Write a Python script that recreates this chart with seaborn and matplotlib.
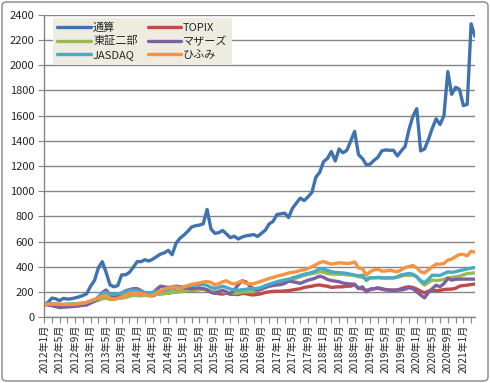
import pandas as pd
import matplotlib
matplotlib.use("Agg")
import matplotlib.pyplot as plt
from matplotlib.patches import FancyBboxPatch
import seaborn as sns

# monthly index values, 2012-01 .. 2021-04
months = pd.date_range("2012-01-01", periods=112, freq="MS")
month_labels = [f"{d.year}年{d.month}月" for d in months]

tsusan = [100, 115, 150, 145, 130, 148, 142, 145, 152, 160, 170, 185,
          245, 290, 390, 440, 355, 255, 240, 250, 335, 335, 355, 395,
          440, 440, 455, 445, 460, 480, 500, 510, 530, 495, 585, 625,
          650, 680, 715, 725, 730, 740, 855, 700, 665, 670, 688, 660,
          630, 642, 620, 635, 645, 650, 655, 640, 665, 690, 740, 760,
          815, 820, 825, 790, 865, 905, 945, 925, 955, 990, 1110, 1150,
          1235, 1260, 1315, 1240, 1335, 1305, 1325, 1400, 1475, 1290, 1260, 1210,
          1215, 1245, 1270, 1320, 1328, 1325, 1325, 1280, 1320, 1355, 1490, 1595,
          1655, 1320, 1335, 1410, 1500, 1575, 1530, 1600, 1950, 1770, 1825, 1810,
          1680, 1690, 2330, 2230]
topix = [100, 102, 105, 100, 93, 94, 96, 95, 98, 100, 104, 110,
         120, 125, 135, 150, 155, 155, 160, 162, 160, 168, 175, 180,
         172, 170, 175, 170, 168, 180, 185, 188, 190, 195, 200, 205,
         208, 210, 213, 215, 218, 222, 215, 200, 195, 185, 182, 190,
         182, 180, 178, 187, 185, 178, 175, 180, 185, 195, 200, 203,
         205, 205, 207, 210, 215, 220, 225, 235, 240, 245, 252, 255,
         248, 245, 235, 238, 240, 240, 245, 245, 258, 228, 225, 212,
         220, 225, 228, 222, 215, 215, 213, 215, 225, 235, 240, 235,
         222, 205, 192, 205, 213, 208, 212, 218, 221, 222, 228, 245,
         250, 253, 258, 262]
tosho2 = [100, 102, 104, 102, 98, 98, 100, 100, 102, 105, 108, 112,
          120, 128, 135, 145, 150, 140, 140, 148, 150, 155, 165, 172,
          170, 170, 172, 170, 175, 180, 182, 185, 190, 195, 200, 200,
          205, 210, 215, 219, 222, 220, 215, 205, 200, 205, 200, 195,
          190, 187, 190, 198, 200, 200, 205, 213, 222, 235, 245, 255,
          262, 270, 280, 290, 300, 310, 320, 330, 340, 345, 350, 360,
          355, 345, 342, 340, 340, 340, 335, 333, 330, 320, 315, 306,
          311, 312, 312, 311, 310, 311, 311, 315, 325, 332, 332, 332,
          320, 280, 253, 275, 293, 290, 293, 300, 311, 315, 319, 325,
          335, 345, 348, 351]
mothers = [100, 95, 90, 82, 75, 78, 80, 82, 85, 88, 92, 95,
           110, 125, 150, 195, 215, 175, 165, 170, 190, 208, 217, 225,
           225, 210, 190, 172, 190, 220, 245, 240, 235, 238, 245, 240,
           235, 230, 225, 228, 232, 225, 215, 195, 187, 200, 213, 200,
           181, 215, 255, 288, 280, 245, 225, 213, 220, 235, 245, 250,
           255, 258, 267, 285, 280, 275, 267, 280, 293, 300, 311, 325,
           315, 298, 290, 285, 280, 270, 265, 262, 261, 226, 240, 200,
           221, 225, 232, 225, 218, 213, 213, 213, 215, 222, 232, 225,
           200, 175, 152, 195, 226, 253, 240, 265, 306, 293, 300, 301,
           301, 301, 301, 301]
jasdaq = [100, 103, 106, 104, 100, 100, 102, 103, 105, 108, 110, 115,
          125, 135, 160, 190, 195, 180, 180, 185, 190, 200, 210, 213,
          210, 200, 195, 192, 195, 205, 210, 213, 218, 225, 230, 235,
          240, 245, 250, 255, 259, 259, 250, 235, 227, 235, 245, 235,
          222, 215, 213, 217, 220, 226, 225, 228, 235, 250, 260, 270,
          280, 288, 295, 300, 310, 320, 330, 340, 345, 355, 365, 385,
          380, 370, 360, 355, 352, 350, 346, 340, 333, 327, 332, 290,
          311, 312, 315, 311, 310, 311, 311, 320, 335, 340, 346, 340,
          320, 290, 272, 300, 332, 332, 330, 345, 359, 355, 360, 368,
          375, 382, 388, 393]
hifumi = [100, 102, 104, 103, 100, 100, 100, 100, 102, 106, 110, 118,
          130, 140, 150, 165, 170, 150, 140, 148, 160, 172, 185, 192,
          190, 185, 180, 170, 175, 188, 210, 222, 230, 235, 240, 228,
          240, 250, 259, 265, 270, 278, 282, 275, 255, 265, 280, 288,
          270, 262, 275, 285, 268, 262, 265, 275, 285, 295, 306, 315,
          325, 332, 340, 350, 355, 360, 370, 375, 385, 400, 415, 433,
          440, 430, 420, 425, 430, 428, 425, 428, 438, 390, 385, 333,
          360, 375, 380, 365, 365, 372, 365, 359, 375, 393, 400, 410,
          390, 360, 350, 375, 399, 420, 420, 425, 452, 460, 480, 497,
          497, 486, 523, 515]

series_names = ["通算", "TOPIX", "東証二部", "マザーズ", "JASDAQ", "ひふみ"]
colors = ["#3F72AF", "#BE4B48", "#98B954", "#7D60A0", "#46AAC5", "#F69240"]

df = pd.DataFrame({"idx": range(len(months)), "通算": tsusan, "TOPIX": topix,
                   "東証二部": tosho2, "マザーズ": mothers, "JASDAQ": jasdaq,
                   "ひふみ": hifumi})
long_df = df.melt(id_vars="idx", var_name="系列", value_name="値")

sns.set_theme(style="white")
plt.rcParams['font.family'] = ['Noto Sans CJK JP', 'DejaVu Sans']

fig = plt.figure(figsize=(4.9, 3.83), dpi=100)
ax = fig.add_axes([44 / 490, 1 - 317 / 383, (475 - 44) / 490, (317 - 15) / 383])

sns.lineplot(data=long_df, x="idx", y="値", hue="系列", hue_order=series_names,
             palette=colors, linewidth=2.4, ax=ax)

ax.set_xlim(0, len(months) - 1)
ax.set_ylim(0, 2400)
ax.set_yticks(range(0, 2401, 200))
ax.grid(axis="y", color="#868686", linewidth=1.0)
ax.set_axisbelow(True)
ax.set_xlabel("")
ax.set_ylabel("")

xt = list(range(0, len(months), 2))
ax.set_xticks(xt)
ax.set_xticklabels([month_labels[i] if i % 4 == 0 else "" for i in xt],
                   rotation=90, fontsize=7.3)
ax.tick_params(axis="x", length=4, width=0.8, color="#868686", pad=1.5, bottom=True)
ax.tick_params(axis="y", length=4, width=0.8, color="#868686", pad=3, labelsize=8, left=True)

for s in ["top", "right"]:
    ax.spines[s].set_visible(False)
for s in ["left", "bottom"]:
    ax.spines[s].set_color("#868686")
    ax.spines[s].set_linewidth(1.0)

handles, labels = ax.get_legend_handles_labels()
order = [0, 2, 4, 1, 3, 5]
leg = ax.legend([handles[i] for i in order], [labels[i] for i in order],
                ncol=2, loc="upper left", bbox_to_anchor=(0.021, 0.99),
                borderaxespad=0, fontsize=8, frameon=True, fancybox=False,
                facecolor="#EEECE1", edgecolor="none", framealpha=1,
                handlelength=3.0, handletextpad=0.2, columnspacing=0.9,
                labelspacing=0.3, borderpad=0.4)
for line in leg.get_lines():
    line.set_linewidth(2.4)

border = FancyBboxPatch((2 / 490, 2 / 383), 486 / 490, 379 / 383,
                        boxstyle="round,pad=0,rounding_size=0.01",
                        transform=fig.transFigure, fill=False,
                        edgecolor="#868686", linewidth=1.0)
fig.patches.append(border)

fig.savefig("out.png", dpi=100)
